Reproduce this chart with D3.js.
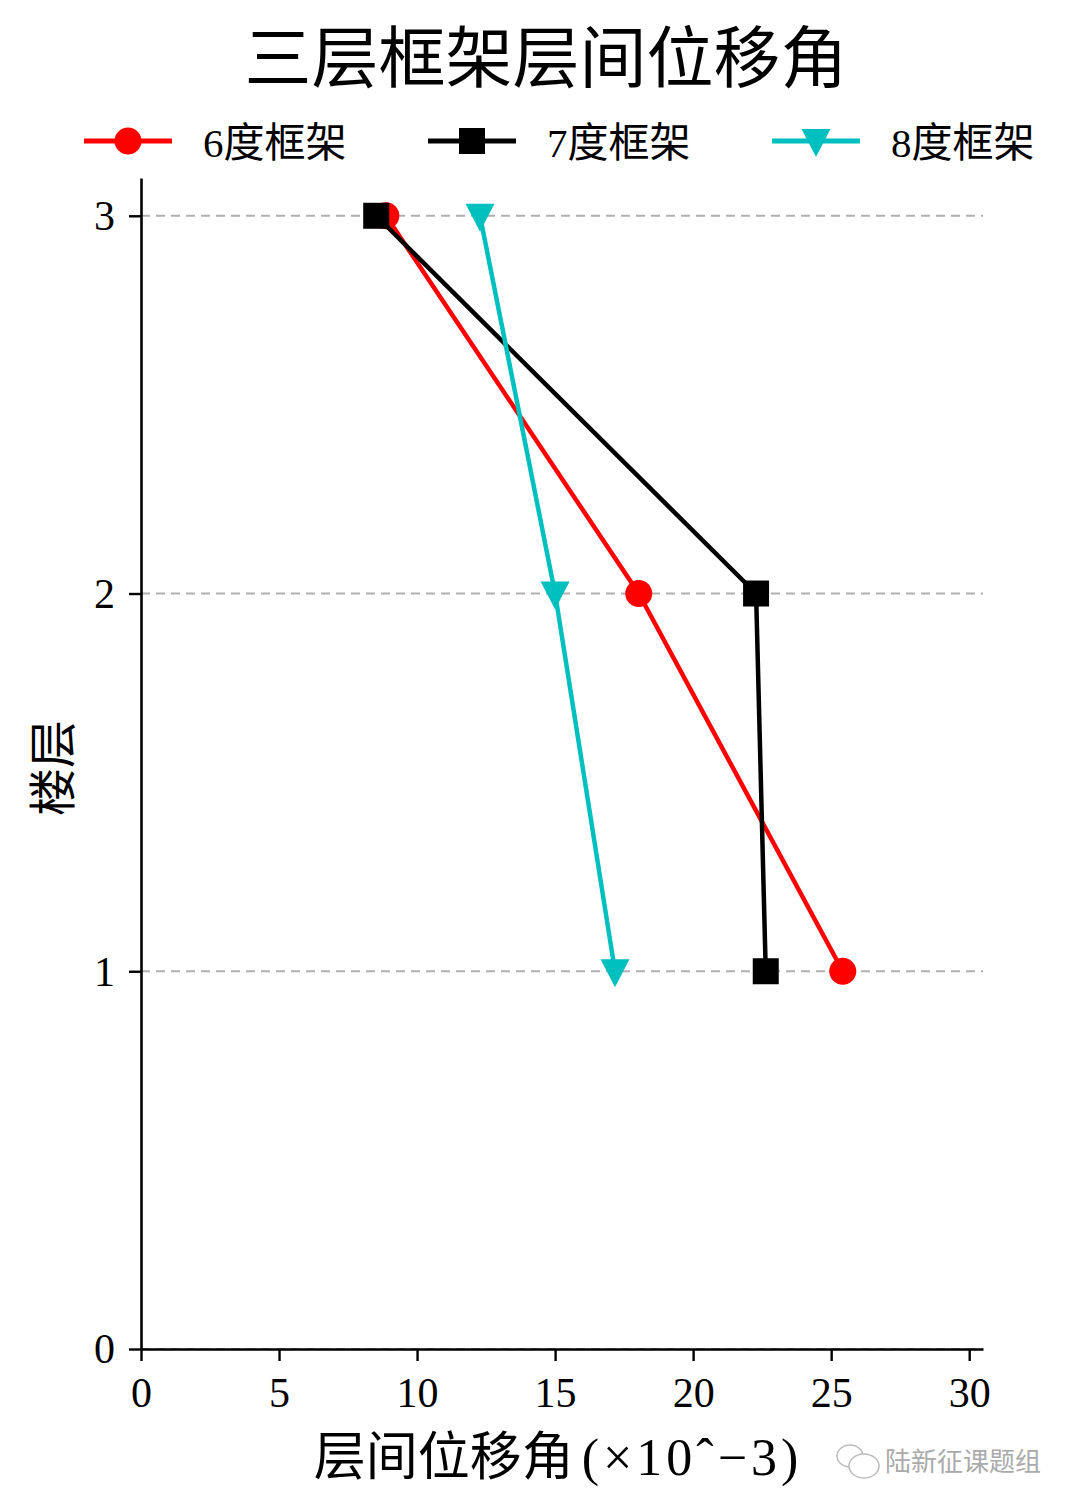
<!DOCTYPE html>
<html>
<head>
<meta charset="utf-8">
<script src="https://cdn.jsdelivr.net/npm/d3@7"></script>
<style>
  body { margin: 0; background: #fff; }
  svg { display: block; }
  text { font-family: "Liberation Serif", "Noto Sans CJK SC", serif; }
</style>
</head>
<body>
<script>
// data
var floors = [1, 2, 3];
var drift6 = [25.42, 18.03, 8.87];
var drift7 = [22.63, 22.28, 8.52];
var drift8 = [17.17, 15.00, 12.28];
var seriesNames = ["6度框架", "7度框架", "8度框架"];
var xTicks = [0, 5, 10, 15, 20, 25, 30];
var yTicks = [0, 1, 2, 3];

var width = 1080, height = 1508;
var plotLeft = 141, plotRight = 983, plotTop = 178, plotBottom = 1349;

var svg = d3.select("body").append("svg")
  .attr("width", width)
  .attr("height", height);

var xScale = d3.scaleLinear().domain([0, 30.5]).range([plotLeft, plotRight]);
var yScale = d3.scaleLinear().domain([0, 3.1]).range([plotBottom, plotTop]);

// grid
svg.append("g").selectAll("line")
  .data(yTicks)
  .enter()
  .append("line")
  .attr("x1", plotLeft)
  .attr("x2", plotRight)
  .attr("y1", function(d) { return yScale(d); })
  .attr("y2", function(d) { return yScale(d); })
  .attr("stroke", "#b0b0b0")
  .attr("stroke-width", 2)
  .attr("stroke-dasharray", "9,6");

// axes
var xAxis = d3.axisBottom(xScale).tickValues(xTicks).tickFormat(d3.format("d"))
  .tickSize(12).tickPadding(16).tickSizeOuter(0);
var yAxis = d3.axisLeft(yScale).tickValues(yTicks).tickFormat(d3.format("d"))
  .tickSize(12).tickPadding(14).tickSizeOuter(0);

var gx = svg.append("g")
  .attr("transform", `translate(0, ${plotBottom})`)
  .call(xAxis);
var gy = svg.append("g")
  .attr("transform", `translate(${plotLeft}, 0)`)
  .call(yAxis);

[gx, gy].forEach(function(g) {
  g.select(".domain").attr("stroke", "#000").attr("stroke-width", 2.6);
  g.selectAll(".tick line").attr("stroke", "#000").attr("stroke-width", 2.4);
  g.selectAll(".tick text")
    .attr("fill", "#000")
    .style("font-size", "42px")
    .style("font-family", "'Liberation Serif', serif");
});
gy.selectAll(".tick text").attr("dy", "0.33em");

// series
var series = [
  {name: seriesNames[0], values: drift6, color: "#ff0000", marker: "circle"},
  {name: seriesNames[1], values: drift7, color: "#000000", marker: "square"},
  {name: seriesNames[2], values: drift8, color: "#00bfbf", marker: "triangle"}
];

var line = d3.line()
  .x(function(d) { return xScale(d[0]); })
  .y(function(d) { return yScale(d[1]); });

function drawMarker(g, type, color) {
  if (type == "circle") {
    g.append("circle").attr("r", 13.5).attr("fill", color);
  } else if (type == "square") {
    g.append("rect").attr("x", -13).attr("y", -13).attr("width", 26).attr("height", 26).attr("fill", color);
  } else {
    g.append("path").attr("d", "M-14.5,-12L14.5,-12L0,16Z").attr("fill", color);
  }
}

series.forEach(function(s) {
  var pts = s.values.map(function(v, i) { return [v, floors[i]]; });
  svg.append("path")
    .datum(pts)
    .attr("d", line)
    .attr("fill", "none")
    .attr("stroke", s.color)
    .attr("stroke-width", 4.5)
    .attr("stroke-linejoin", "round");
  pts.forEach(function(p) {
    var g = svg.append("g")
      .attr("transform", `translate(${xScale(p[0])}, ${yScale(p[1])})`);
    drawMarker(g, s.marker, s.color);
  });
});

// legend
var legendX = [84, 428, 772];
series.forEach(function(s, i) {
  var g = svg.append("g").attr("transform", `translate(${legendX[i]}, 141)`);
  g.append("line")
    .attr("x1", 0).attr("x2", 88)
    .attr("y1", 0).attr("y2", 0)
    .attr("stroke", s.color)
    .attr("stroke-width", 5);
  var m = g.append("g").attr("transform", "translate(44, 0)");
  drawMarker(m, s.marker, s.color);
  g.append("text")
    .attr("x", 119)
    .attr("y", 16)
    .style("font-size", "41px")
    .attr("fill", "#000")
    .text(s.name);
});

// title and labels
svg.append("text")
  .attr("x", 546)
  .attr("y", 82)
  .attr("text-anchor", "middle")
  .style("font-size", "67px")
  .text("三层框架层间位移角");

var xl = svg.append("text")
  .attr("x", 558)
  .attr("y", 1475)
  .attr("text-anchor", "middle")
  .style("font-size", "52px");
xl.append("tspan").text("层间位移角");
xl.append("tspan").attr("dx", 8).style("letter-spacing", "4px").text("(×10ˆ−3)");

svg.append("text")
  .attr("transform", "translate(70, 768) rotate(-90)")
  .attr("text-anchor", "middle")
  .style("font-size", "48px")
  .text("楼层");

// watermark
var wm = svg.append("g").attr("transform", "translate(836, 1444)");
wm.append("ellipse").attr("cx", 14).attr("cy", 12).attr("rx", 13).attr("ry", 11)
  .attr("fill", "#fff").attr("stroke", "#bbb").attr("stroke-width", 1.5);
wm.append("ellipse").attr("cx", 28).attr("cy", 22).attr("rx", 15).attr("ry", 12)
  .attr("fill", "#fff").attr("stroke", "#bbb").attr("stroke-width", 1.5);
svg.append("text")
  .attr("x", 885)
  .attr("y", 1471)
  .style("font-size", "26px")
  .attr("fill", "#aaa")
  .style("font-family", "Noto Sans CJK SC, sans-serif")
  .text("陆新征课题组");
</script>
</body>
</html>
